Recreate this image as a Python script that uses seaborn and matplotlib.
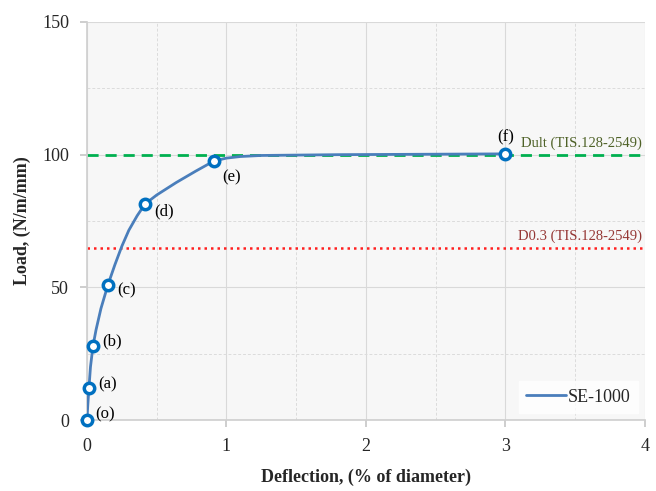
import matplotlib
matplotlib.use("Agg")
import matplotlib.pyplot as plt
from matplotlib.ticker import MultipleLocator
import seaborn as sns
import pandas as pd

# load-deflection curve
curve_x = [0, 0.005, 0.014, 0.025, 0.043, 0.065, 0.1, 0.15, 0.2, 0.25, 0.3, 0.36,
           0.416, 0.5, 0.64, 0.78, 0.91, 1.0, 1.1, 1.25, 1.8, 3.0]
curve_y = [0, 5, 12, 20, 27.9, 34, 42, 50.9, 58.5, 65.5, 71.5, 77,
           81.4, 84.8, 89.5, 93.8, 97.6, 98.7, 99.3, 99.7, 100, 100.3]

# marked points (o) .. (f)
pt_labels = ["(o)", "(a)", "(b)", "(c)", "(d)", "(e)", "(f)"]
pt_x = [0, 0.014, 0.043, 0.15, 0.416, 0.91, 3.0]
pt_y = [0, 12, 27.9, 50.9, 81.4, 97.6, 100.3]

d_ult = 100
d_03 = 65

sns.set_theme(style="white")
plt.rcParams["font.family"] = ["Liberation Serif", "DejaVu Serif"]

fig = plt.figure(figsize=(6.56, 4.91), dpi=100)
ax = fig.add_axes([0.1326, 0.1446, 0.8504, 0.8106])
ax.set_facecolor("#f7f7f7")

curve = pd.DataFrame({"x": curve_x, "y": curve_y})
pts = pd.DataFrame({"x": pt_x, "y": pt_y})

ax.axhline(d_ult, color="#00b050", lw=2, ls=(0, (4, 2.5)), zorder=2)
ax.axhline(d_03, color="#ff2020", lw=1.8, ls=(0, (1, 1.6)), zorder=2)

sns.lineplot(data=curve, x="x", y="y", ax=ax, color="#4a7ebb", lw=2,
             sort=False, label="SE-1000", zorder=3)
ax.plot(pts["x"], pts["y"], ls="none", marker="o", ms=7.5, mfc="white",
        mec="#0070c0", mew=2.5, zorder=4, clip_on=False)

offsets = {"(o)": (6, 4), "(a)": (7, 3), "(b)": (7, 3), "(c)": (7, -4),
           "(d)": (7, -5), "(e)": (6, -12), "(f)": (0, 12)}
for lab, x, y in zip(pt_labels, pt_x, pt_y):
    dx, dy = offsets[lab]
    ha = "center" if lab == "(f)" else "left"
    ax.annotate(lab, (x, y), xytext=(dx, dy), textcoords="offset points",
                fontsize=12, ha=ha, va="center", color="black")

ax.text(3.98, 101.8, "Dult (TIS.128-2549)", color="#4f6228", fontsize=10.5,
        ha="right", va="bottom")
ax.text(3.98, 66.8, "D0.3 (TIS.128-2549)", color="#953735", fontsize=10.5,
        ha="right", va="bottom")

ax.set_xlim(0, 4)
ax.set_ylim(0, 150)
ax.xaxis.set_major_locator(MultipleLocator(1))
ax.xaxis.set_minor_locator(MultipleLocator(0.5))
ax.yaxis.set_major_locator(MultipleLocator(50))
ax.yaxis.set_minor_locator(MultipleLocator(25))
ax.grid(which="major", color="#d9d9d9", lw=0.8)
ax.grid(which="minor", color="#dcdcdc", lw=0.7, ls=(0, (3, 2)))

for s in ["top", "right"]:
    ax.spines[s].set_visible(False)
for s in ["left", "bottom"]:
    ax.spines[s].set_color("#d0d0d0")
ax.tick_params(which="major", direction="out", length=5, color="#c8c8c8",
               labelsize=13, pad=8, left=True, bottom=True)
ax.tick_params(which="minor", length=0)

ax.set_xlabel("Deflection, (% of diameter)", fontsize=13, fontweight="bold", labelpad=10)
ax.set_ylabel("Load, (N/m/mm)", fontsize=13, fontweight="bold", labelpad=8)

leg = ax.legend(loc="lower right", frameon=True, fontsize=13, handlelength=2.2,
                handletextpad=0.1, borderaxespad=0.4, fancybox=False)
leg.get_frame().set_edgecolor("white")
leg.get_frame().set_facecolor("white")

fig.savefig("out.png", dpi=100)
